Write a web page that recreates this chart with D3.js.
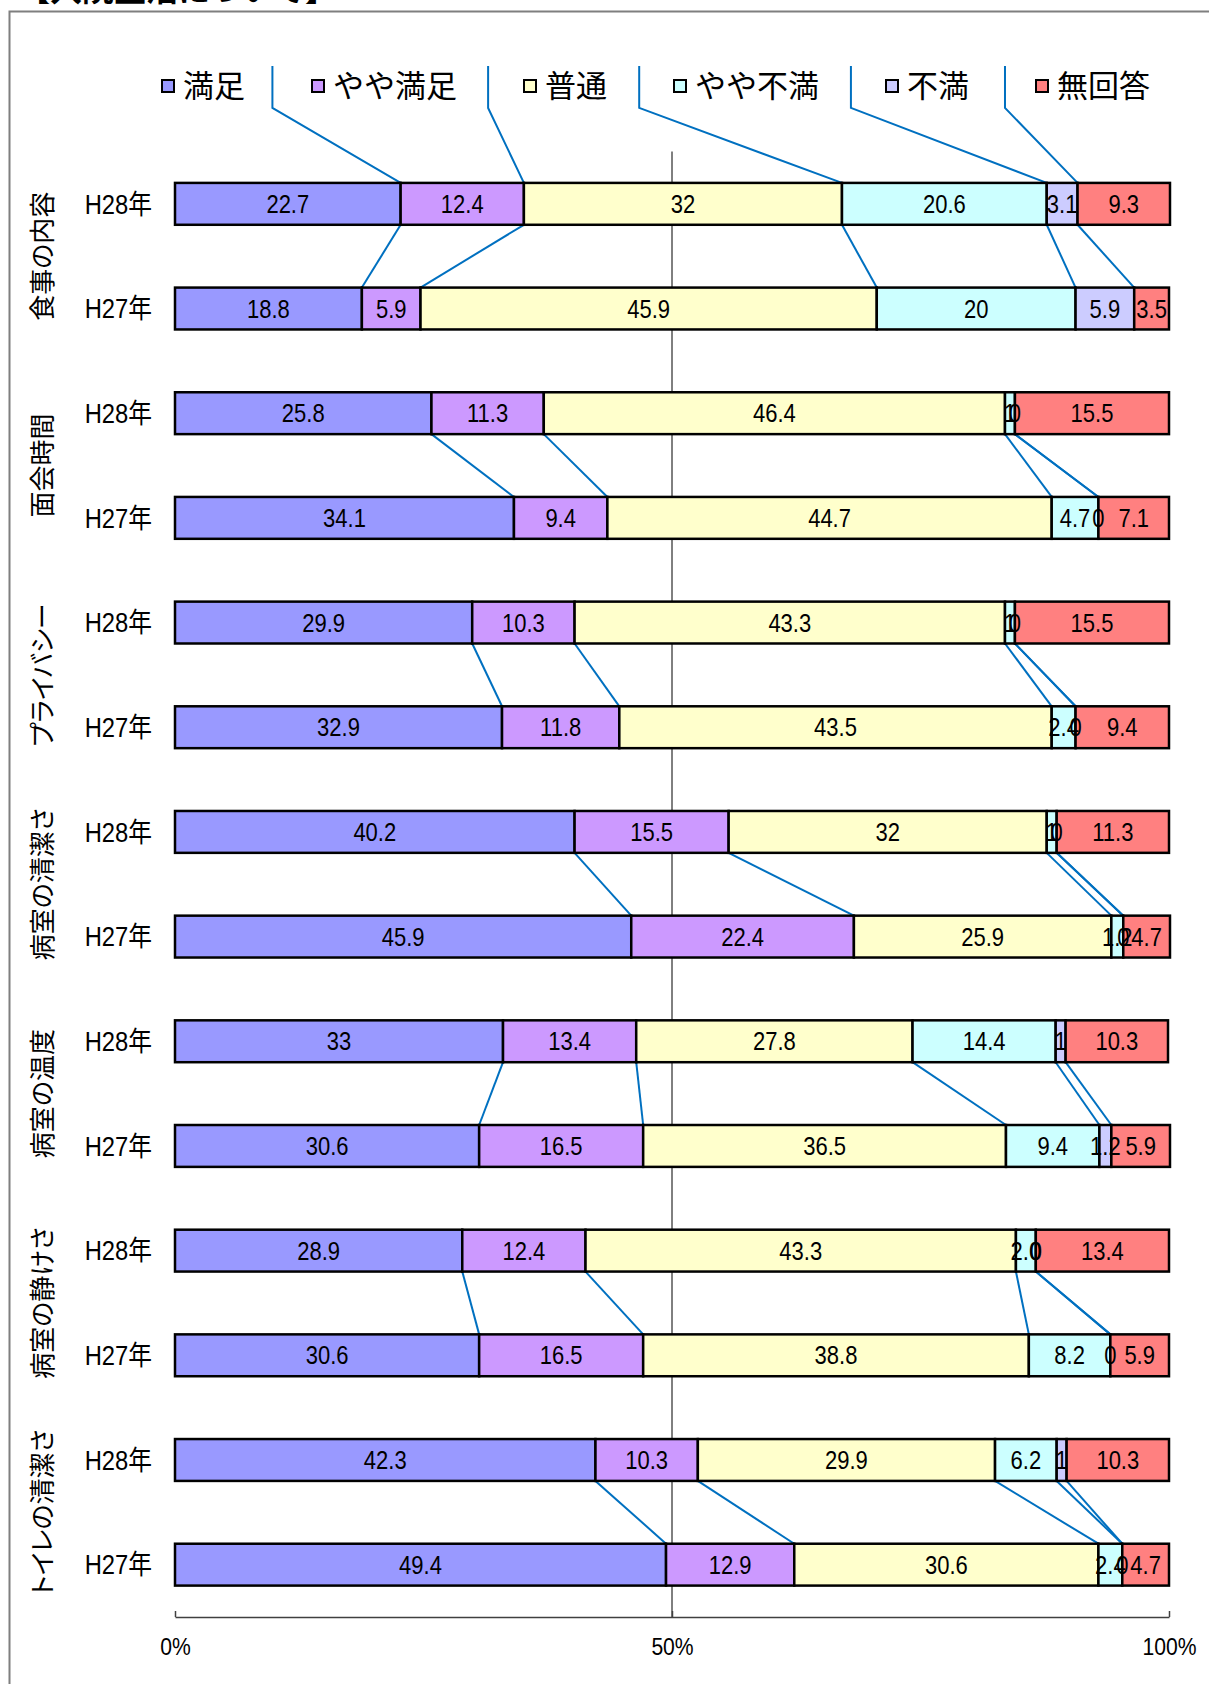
<!DOCTYPE html>
<html>
<head>
<meta charset="utf-8">
<script src="https://cdn.jsdelivr.net/npm/d3@7"></script>
<style>
  body { margin: 0; background: #fff; overflow: hidden; }
  svg text { font-family: "Liberation Sans", Arial, "Noto Sans CJK JP", sans-serif; fill: #000; }
  svg text.jp { font-family: "Noto Sans CJK JP", sans-serif; }
</style>
</head>
<body>
<svg id="chart" width="1209" height="1684"></svg>
<script>
var titleText = "【入院生活について】";
var categories = ["食事の内容", "面会時間", "プライバシー", "病室の清潔さ", "病室の温度", "病室の静けさ", "トイレの清潔さ"];
var years = ["H28年", "H27年"];
var seriesNames = ["満足", "やや満足", "普通", "やや不満", "不満", "無回答"];
var seriesColors = ["#9999ff", "#cc99ff", "#ffffcc", "#ccffff", "#ccccff", "#ff8080"];

// one value per row: 食事H28, 食事H27, 面会H28, 面会H27, ... (kept as text, the labels show them as written)
var manzoku     = ["22.7", "18.8", "25.8", "34.1", "29.9", "32.9", "40.2", "45.9", "33",   "30.6", "28.9", "30.6", "42.3", "49.4"];
var yayaManzoku = ["12.4", "5.9",  "11.3", "9.4",  "10.3", "11.8", "15.5", "22.4", "13.4", "16.5", "12.4", "16.5", "10.3", "12.9"];
var futsuu      = ["32",   "45.9", "46.4", "44.7", "43.3", "43.5", "32",   "25.9", "27.8", "36.5", "43.3", "38.8", "29.9", "30.6"];
var yayaFuman   = ["20.6", "20",   "1",    "4.7",  "1",    "2.4",  "1",    "1.2",  "14.4", "9.4",  "2.0",  "8.2",  "6.2",  "2.4"];
var fuman       = ["3.1",  "5.9",  "0",    "0",    "0",    "0",    "0",    "0",    "1",    "1.2",  "0",    "0",    "1",    "0"];
var mukaitou    = ["9.3",  "3.5",  "15.5", "7.1",  "15.5", "9.4",  "11.3", "4.7",  "10.3", "5.9",  "13.4", "5.9",  "10.3", "4.7"];

// where the lines above the first bar start (percent)
var legendAnchors = [9.8, 31.5, 46.7, 68.0, 83.5];
var xTicks = [0, 50, 100];

var seriesValues = [manzoku, yayaManzoku, futsuu, yayaFuman, fuman, mukaitou];

// the chart's font is a narrow gothic: squeeze Liberation Sans sideways
var squeeze = 0.88;

let chart = d3.select("#chart"),
    margin = { top: 151.5, left: 175, right: 40, bottom: 67 },
    width = +chart.attr("width") - margin.left - margin.right,
    height = +chart.attr("height") - margin.top - margin.bottom;

// rows of the chart
let rows = [];
categories.forEach((cat, ci) => {
    years.forEach((yr, yi) => {
        let i = ci * 2 + yi;
        let cum = 0;
        let segs = seriesValues.map((s, si) => {
            let v = +s[i];
            let seg = { series: si, label: s[i], x0: cum, x1: cum + v };
            cum += v;
            return seg;
        });
        rows.push({ key: cat + "|" + yr, cat: cat, year: yr, segs: segs });
    });
});

let x = d3.scaleLinear().domain([0, 100]).range([0, width]);
let y = d3.scaleBand()
    .domain(rows.map(d => d.key))
    .range([0, height])
    .paddingInner(0.6)
    .paddingOuter(0.3);
let bw = y.bandwidth();

// frame and title
chart.append("rect")
    .attr("x", 9.5).attr("y", 11.5)
    .attr("width", 1400).attr("height", 1900)
    .style("fill", "none")
    .style("stroke", "#7f7f7f")
    .style("stroke-width", 2);

chart.append("text")
    .attr("class", "jp")
    .attr("x", 18).attr("y", 1)
    .style("font-size", "32px")
    .style("font-weight", "bold")
    .text(titleText);

let focus = chart.append("g")
    .attr("transform", "translate(" + margin.left + "," + margin.top + ")");

// 50% gridline
focus.append("line")
    .attr("x1", x(50)).attr("x2", x(50))
    .attr("y1", 0).attr("y2", height)
    .style("stroke", "#000")
    .style("stroke-width", 1);

// axis
let xAxis = d3.axisBottom(x)
    .tickValues(xTicks)
    .tickFormat(d => d + "%")
    .tickSizeInner(-6)
    .tickSizeOuter(0)
    .tickPadding(21);

let ax = focus.append("g")
    .attr("transform", "translate(0," + height + ")")
    .call(xAxis);
ax.select(".domain").style("stroke", "#404040").style("stroke-width", 1.5);
ax.selectAll(".tick line").style("stroke", "#404040").style("stroke-width", 1.5);
ax.selectAll(".tick text")
    .style("font-size", "24px")
    .style("font-family", "\"Liberation Sans\", Arial, sans-serif")
    .attr("fill", "#000")
    .attr("transform", "scale(" + squeeze + ",1)")
    .attr("x", 0);

// series lines between H28 and H27 of each category
let lineGroup = focus.append("g");
for (let c = 0; c < categories.length; c++) {
    let top = rows[c * 2], bot = rows[c * 2 + 1];
    for (let k = 0; k < seriesNames.length - 1; k++) {
        lineGroup.append("line")
            .attr("x1", x(top.segs[k].x1))
            .attr("y1", y(top.key) + bw)
            .attr("x2", x(bot.segs[k].x1))
            .attr("y2", y(bot.key))
            .style("stroke", "#0070c0")
            .style("stroke-width", 2);
    }
}

// lines from the legend row into the first bar
let first = rows[0];
legendAnchors.forEach((a, k) => {
    lineGroup.append("polyline")
        .attr("points", [
            [x(a), y(first.key) - 117],
            [x(a), y(first.key) - 75],
            [x(first.segs[k].x1), y(first.key)]
        ].map(p => p.join(",")).join(" "))
        .style("fill", "none")
        .style("stroke", "#0070c0")
        .style("stroke-width", 2);
});

// bars
let bar = focus.selectAll(".bar")
    .data(rows)
    .enter().append("g")
    .attr("class", "bar")
    .attr("transform", d => "translate(0," + y(d.key) + ")");

bar.selectAll("rect")
    .data(d => d.segs.filter(s => s.x1 > s.x0))
    .enter().append("rect")
    .attr("x", s => x(s.x0))
    .attr("width", s => x(s.x1) - x(s.x0))
    .attr("y", 0)
    .attr("height", bw)
    .style("fill", s => seriesColors[s.series])
    .style("stroke", "#000")
    .style("stroke-width", 2.5);

bar.selectAll("text.val")
    .data(d => d.segs)
    .enter().append("text")
    .attr("class", "val")
    .attr("transform", s => "translate(" + x((s.x0 + s.x1) / 2) + "," + (bw / 2) + ") scale(" + squeeze + ",1)")
    .attr("dy", "0.36em")
    .attr("text-anchor", "middle")
    .style("font-size", "25px")
    .text(s => s.label);

// year labels
focus.selectAll(".year")
    .data(rows)
    .enter().append("text")
    .attr("class", "year")
    .attr("transform", d => "translate(-23," + (y(d.key) + bw / 2) + ") scale(" + squeeze + ",1)")
    .attr("dy", "0.36em")
    .attr("text-anchor", "end")
    .style("font-size", "27px")
    .text(d => d.year);

// category labels, vertical
focus.selectAll(".cat")
    .data(categories)
    .enter().append("text")
    .attr("class", "cat jp")
    .attr("transform", (d, i) => {
        let mid = (y(rows[i * 2].key) + y(rows[i * 2 + 1].key) + bw) / 2;
        return "translate(" + (-132) + "," + mid + ") rotate(-90)";
    })
    .attr("dy", "0.36em")
    .attr("text-anchor", "middle")
    .style("font-size", "26px")
    .style("font-feature-settings", "\"palt\"")
    .text(d => d);

// legend
let legend = chart.append("g").attr("transform", "translate(162,86)");
let lx = 0;
seriesNames.forEach((name, i) => {
    let item = legend.append("g").attr("transform", "translate(" + lx + ",0)");
    item.append("rect")
        .attr("x", 0).attr("y", -6)
        .attr("width", 12).attr("height", 12)
        .style("fill", seriesColors[i])
        .style("stroke", "#000")
        .style("stroke-width", 2);
    let t = item.append("text")
        .attr("class", "jp")
        .attr("x", 21)
        .attr("dy", "0.36em")
        .style("font-size", "31px")
        .text(name);
    lx += 21 + t.node().getComputedTextLength() + 67;
});
</script>
</body>
</html>
